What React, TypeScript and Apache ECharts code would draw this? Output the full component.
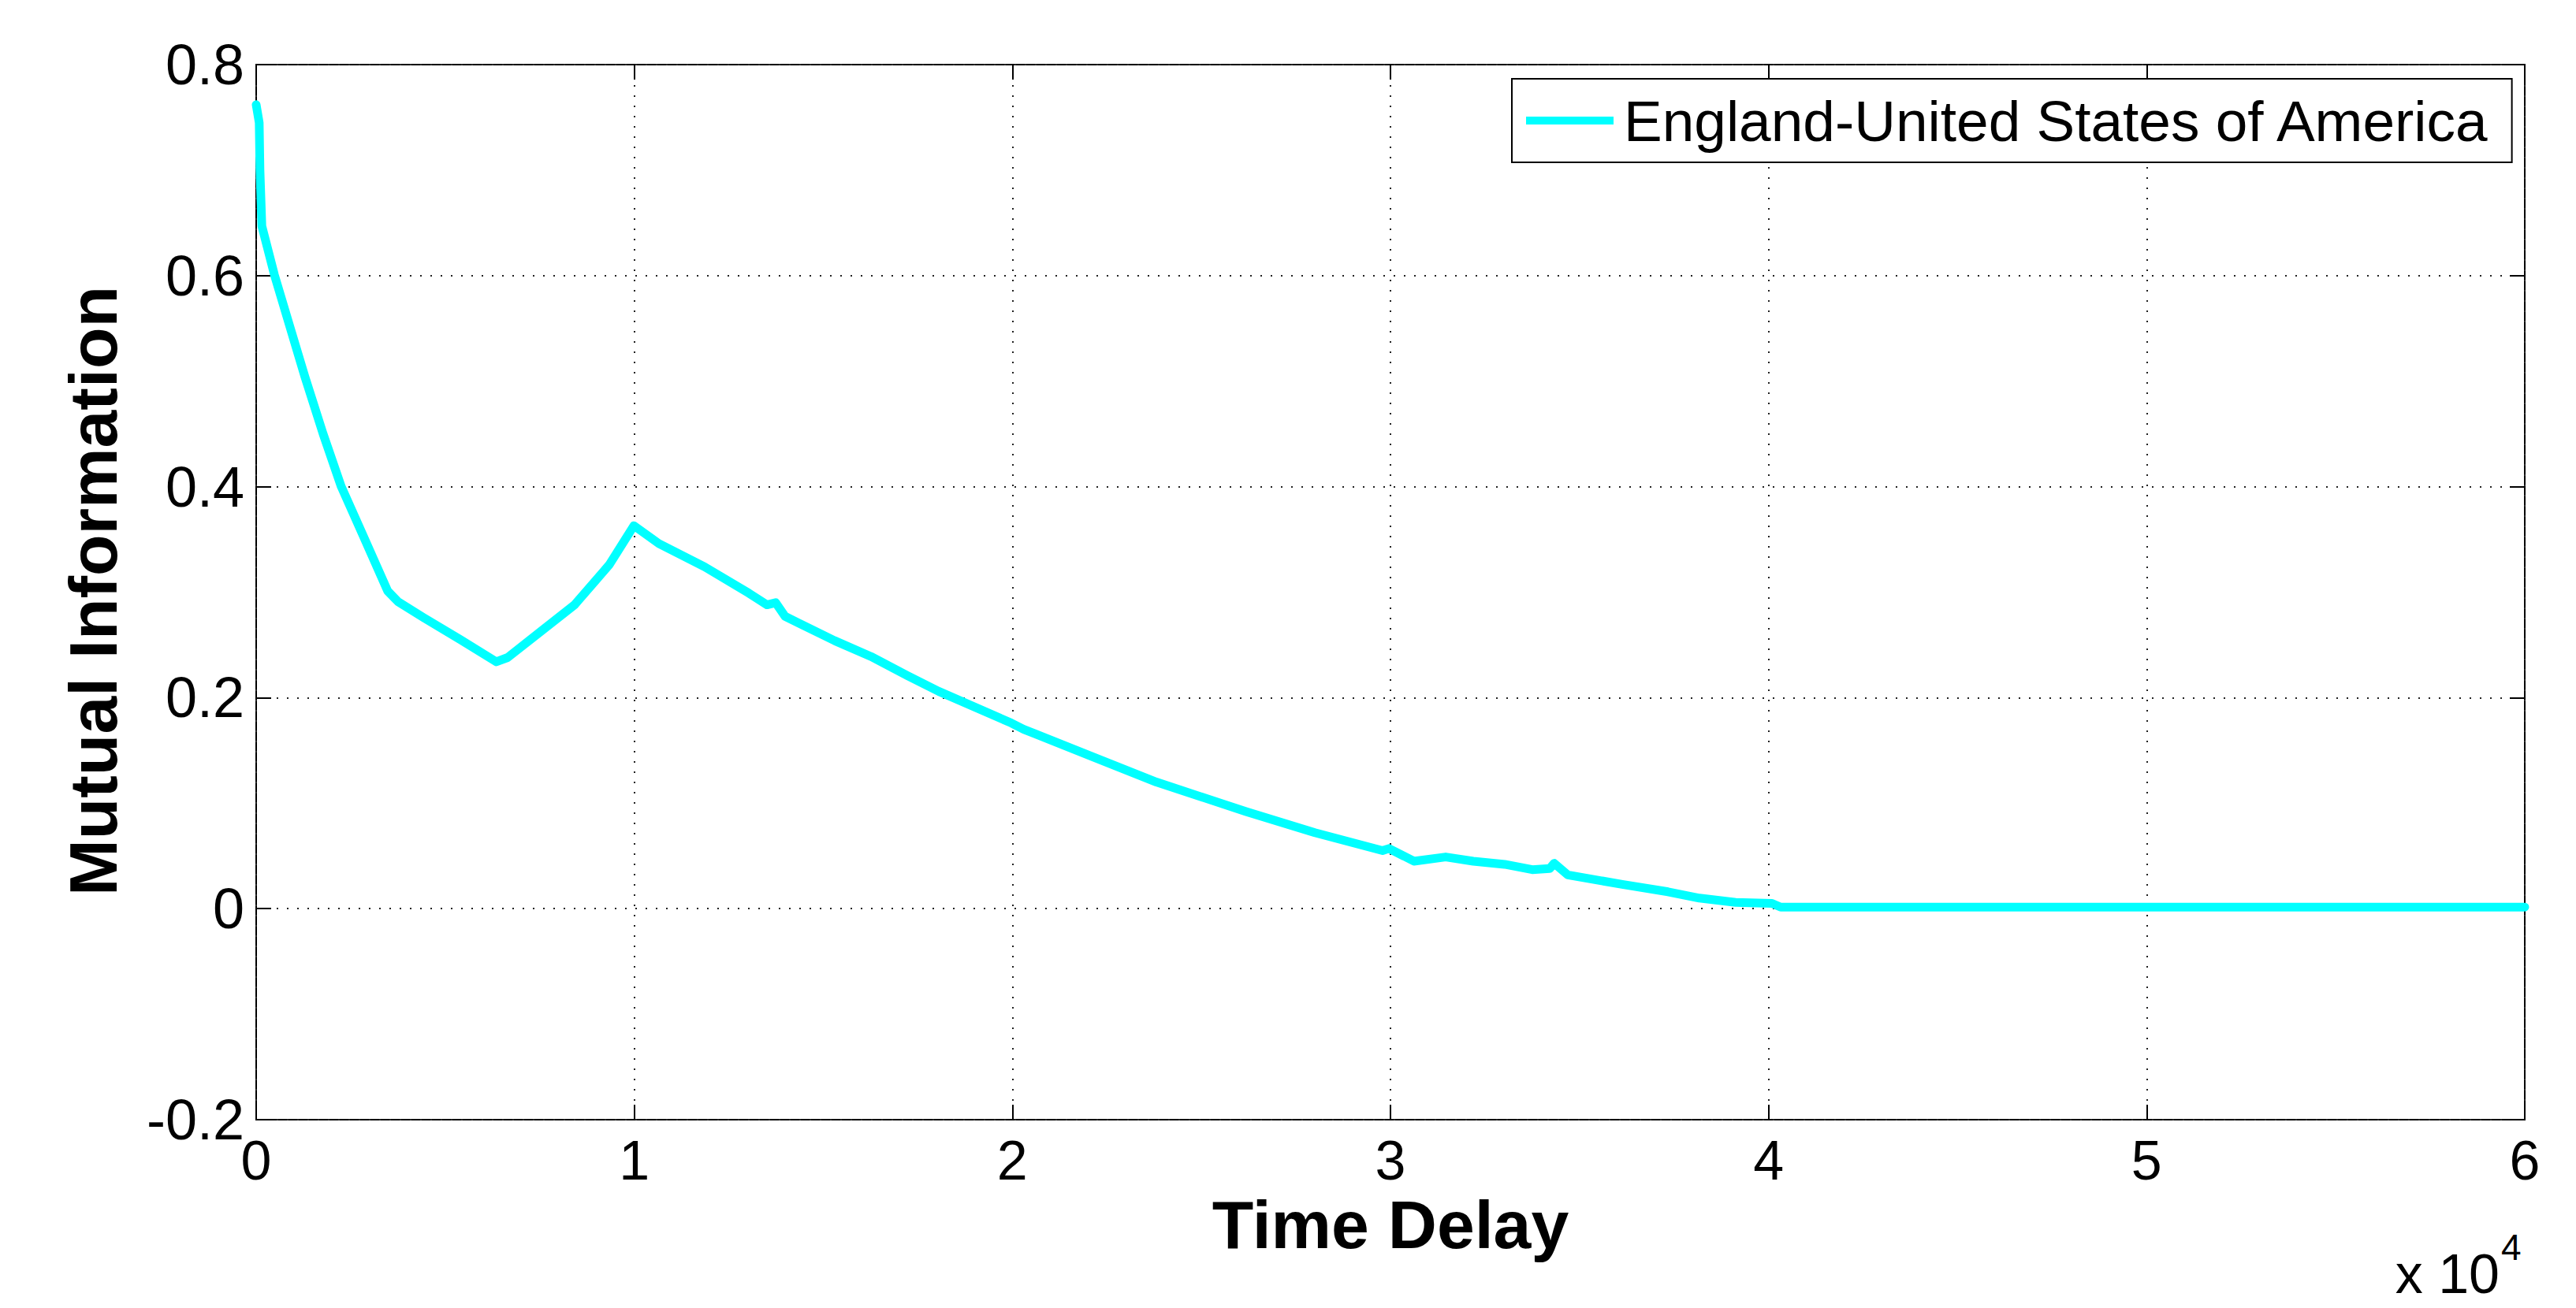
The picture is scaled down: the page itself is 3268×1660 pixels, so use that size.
import React, { useEffect, useRef } from "react";
import * as echarts from "echarts";

const timeDelay = [
  0, 80, 100, 150, 480, 880, 1290, 1770, 2250, 2810, 3480, 3750, 4420, 5400,
  6350, 6650, 7500, 8420, 9340, 9990, 10650, 11860, 13030, 13510, 13740, 13990,
  15300, 16260, 17220, 18050, 19970, 20300, 20580, 22120, 23810, 26180, 28000,
  29790, 29960, 30620, 31460, 32190, 33020, 33750, 34210, 34330, 34690, 36130,
  37340, 38170, 39130, 40090, 40320, 45000, 50000, 55000, 60000,
];
const mutualInfo = [
  0.762, 0.745, 0.7, 0.647, 0.601, 0.553, 0.504, 0.45, 0.4, 0.355, 0.301, 0.291,
  0.276, 0.255, 0.234, 0.238, 0.262, 0.288, 0.326, 0.363, 0.346, 0.324, 0.299,
  0.288, 0.29, 0.277, 0.254, 0.239, 0.221, 0.206, 0.176, 0.17, 0.166, 0.144,
  0.12, 0.092, 0.072, 0.055, 0.057, 0.045, 0.049, 0.045, 0.042, 0.037, 0.038,
  0.043, 0.032, 0.023, 0.016, 0.01, 0.006, 0.005, 0.0015, 0.0015, 0.0015,
  0.0015, 0.0015,
];
const xTicks = [0, 10000, 20000, 30000, 40000, 50000, 60000];
const yTicks = [-0.2, 0, 0.2, 0.4, 0.6, 0.8];
const seriesName = "England-United States of America";
const xTitle = "Time Delay";
const yTitle = "Mutual Information";
const xExponentBase = "x 10";
const xExponent = "4";

const FONT = "'Liberation Sans', Arial, Helvetica, sans-serif";

export default function App() {
  const ref = useRef<HTMLDivElement>(null);
  useEffect(() => {
    if (!ref.current) return;
    const chart = echarts.init(ref.current, undefined, { renderer: "svg" });
    const data = timeDelay.map((x, i) => [x, mutualInfo[i]]);
    const gridLine = {
      show: true,
      lineStyle: { color: "#222", width: 2, type: [2, 11] as any },
    };
    const tick = { show: true, inside: true, length: 19, lineStyle: { color: "#000", width: 2 } };
    const xBase = {
      type: "value" as const,
      min: xTicks[0],
      max: xTicks[xTicks.length - 1],
      interval: xTicks[1] - xTicks[0],
      axisLine: { show: false, onZero: false },
      axisTick: tick,
    };
    const yBase = {
      type: "value" as const,
      min: yTicks[0],
      max: yTicks[yTicks.length - 1],
      interval: 0.2,
      axisLine: { show: false, onZero: false },
      axisTick: tick,
    };
    chart.setOption({
      animation: false,
      backgroundColor: "#fff",
      grid: {
        left: 325,
        right: 65,
        top: 82,
        bottom: 239,
        show: true,
        borderColor: "#000",
        borderWidth: 2,
        backgroundColor: "transparent",
      },
      legend: {
        show: true,
        left: 1918,
        top: 100,
        orient: "horizontal",
        padding: [16, 27, 16, 18],
        itemWidth: 111,
        itemHeight: 10,
        borderColor: "#000",
        borderWidth: 2,
        backgroundColor: "#fff",
        textStyle: {
          fontFamily: FONT,
          fontSize: 73,
          color: "#000",
          lineHeight: 74,
          padding: [0, 0, 0, 8],
        },
        data: [{ name: seriesName, icon: "rect" }],
      },
      xAxis: [
        {
          ...xBase,
          position: "bottom",
          splitLine: gridLine,
          axisLabel: {
            show: true,
            margin: 17,
            fontFamily: FONT,
            fontSize: 70,
            color: "#000",
            formatter: (v: number) => String(Math.round(v / 10000)),
          },
        },
        {
          ...xBase,
          position: "top",
          splitLine: { show: false },
          axisLabel: { show: false },
        },
      ],
      yAxis: [
        {
          ...yBase,
          position: "left",
          splitLine: gridLine,
          axisLabel: {
            show: true,
            margin: 15,
            fontFamily: FONT,
            fontSize: 72,
            color: "#000",
            formatter: (v: number) => {
              const r = Math.round(v * 10) / 10;
              return r === 0 ? "0" : String(r);
            },
          },
        },
        {
          ...yBase,
          position: "right",
          splitLine: { show: false },
          axisLabel: { show: false },
        },
      ],
      series: [
        {
          name: seriesName,
          type: "line",
          xAxisIndex: 0,
          yAxisIndex: 0,
          data,
          showSymbol: false,
          symbol: "none",
          lineStyle: { color: "#0ff", width: 11, join: "round", cap: "round" },
          itemStyle: { color: "#0ff" },
        },
      ],
      graphic: [
        {
          type: "text",
          x: 1764,
          y: 1554,
          style: {
            text: xTitle,
            font: `bold 86px ${FONT}`,
            fill: "#000",
            textAlign: "center",
            textVerticalAlign: "middle",
          },
        },
        {
          type: "text",
          x: 118,
          y: 750,
          rotation: Math.PI / 2,
          style: {
            text: yTitle,
            font: `bold 86px ${FONT}`,
            fill: "#000",
            textAlign: "center",
            textVerticalAlign: "middle",
          },
        },
        {
          type: "text",
          x: 3171,
          y: 1617,
          style: {
            text: xExponentBase,
            font: `70px ${FONT}`,
            fill: "#000",
            textAlign: "right",
            textVerticalAlign: "middle",
          },
        },
        {
          type: "text",
          x: 3173,
          y: 1583,
          style: {
            text: xExponent,
            font: `46px ${FONT}`,
            fill: "#000",
            textAlign: "left",
            textVerticalAlign: "middle",
          },
        },
      ],
    });
    return () => chart.dispose();
  }, []);
  return (
    <div
      ref={ref}
      style={{ position: "fixed", left: 0, top: 0, width: 3268, height: 1660, background: "#fff" }}
    />
  );
}
